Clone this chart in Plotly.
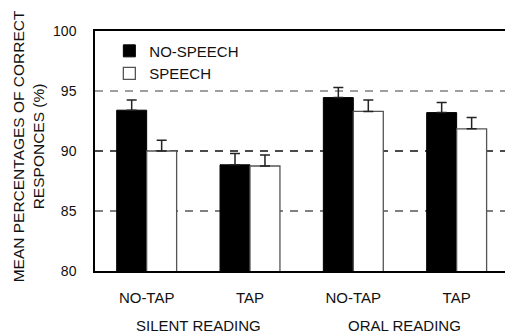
import plotly.graph_objects as go

conditions = ["NO-TAP", "TAP", "NO-TAP", "TAP"]
groups = ["SILENT READING", "ORAL READING"]
no_speech = [93.4, 88.85, 94.45, 93.2]
no_speech_err = [0.85, 0.95, 0.85, 0.85]
speech = [90.0, 88.75, 93.3, 91.85]
speech_err = [0.9, 0.92, 0.95, 0.95]

grid_levels = [85, 90, 95]
grid_colors = ["#808080", "#111111", "#808080"]
grid_widths = [2, 1.5, 1.5]

x = list(range(len(conditions)))
FONT = "Liberation Sans, Arial, sans-serif"

fig = go.Figure()
fig.add_trace(go.Bar(
    x=x, y=no_speech, name="NO-SPEECH",
    marker=dict(color="black", line=dict(color="black", width=1)),
    error_y=dict(type="data", symmetric=False, array=no_speech_err,
                 arrayminus=[0] * 4, color="#222", thickness=1.5, width=5),
))
fig.add_trace(go.Bar(
    x=x, y=speech, name="SPEECH",
    marker=dict(color="white", line=dict(color="#555555", width=1.3)),
    error_y=dict(type="data", symmetric=False, array=speech_err,
                 arrayminus=[0] * 4, color="#222", thickness=1.5, width=5),
))

for lvl, col, w in zip(grid_levels, grid_colors, grid_widths):
    fig.add_shape(type="line", xref="paper", yref="y", x0=0, x1=1, y0=lvl, y1=lvl,
                  line=dict(color=col, width=w, dash="8px,7px"), layer="below")

fig.update_layout(
    width=505, height=334,
    margin=dict(l=95, r=0, t=31, b=63),
    paper_bgcolor="white", plot_bgcolor="white",
    barmode="group", bargap=0.42, bargroupgap=0,
    font=dict(family=FONT, size=15, color="#111"),
    showlegend=True,
    legend=dict(x=0.035, y=0.985, xanchor="left", yanchor="top",
                bgcolor="rgba(0,0,0,0)", font=dict(size=15),
                itemwidth=30, tracegroupgap=0),
    xaxis=dict(range=[-0.5, 3.468], tickvals=x, ticktext=conditions,
               showline=True, linecolor="black", linewidth=1.5, mirror=True,
               showgrid=False, zeroline=False, ticks="",
               ticklabelstandoff=12, tickfont=dict(size=15)),
    yaxis=dict(range=[80, 100], tickvals=[80, 85, 90, 95, 100],
               showline=True, linecolor="black", linewidth=1.5, mirror=False,
               showgrid=False, zeroline=False, ticks="", ticklabelstandoff=14,
               tickfont=dict(size=14)),
)

for gname, pos in zip(groups, [0.5, 2.5]):
    fig.add_annotation(x=pos, y=-0.228, xref="x", yref="paper", text=gname,
                       showarrow=False, yanchor="middle",
                       font=dict(size=15, family=FONT))

fig.add_annotation(x=-0.163, y=0.52, xref="paper", yref="paper",
                   text="MEAN PERCENTAGES OF CORRECT<br>RESPONCES (%)",
                   textangle=-90, showarrow=False, xanchor="center", yanchor="middle",
                   font=dict(size=15.5, family=FONT))

fig.write_html("out.html", config={"displayModeBar": False},
               post_script="document.body.style.margin='0';")
